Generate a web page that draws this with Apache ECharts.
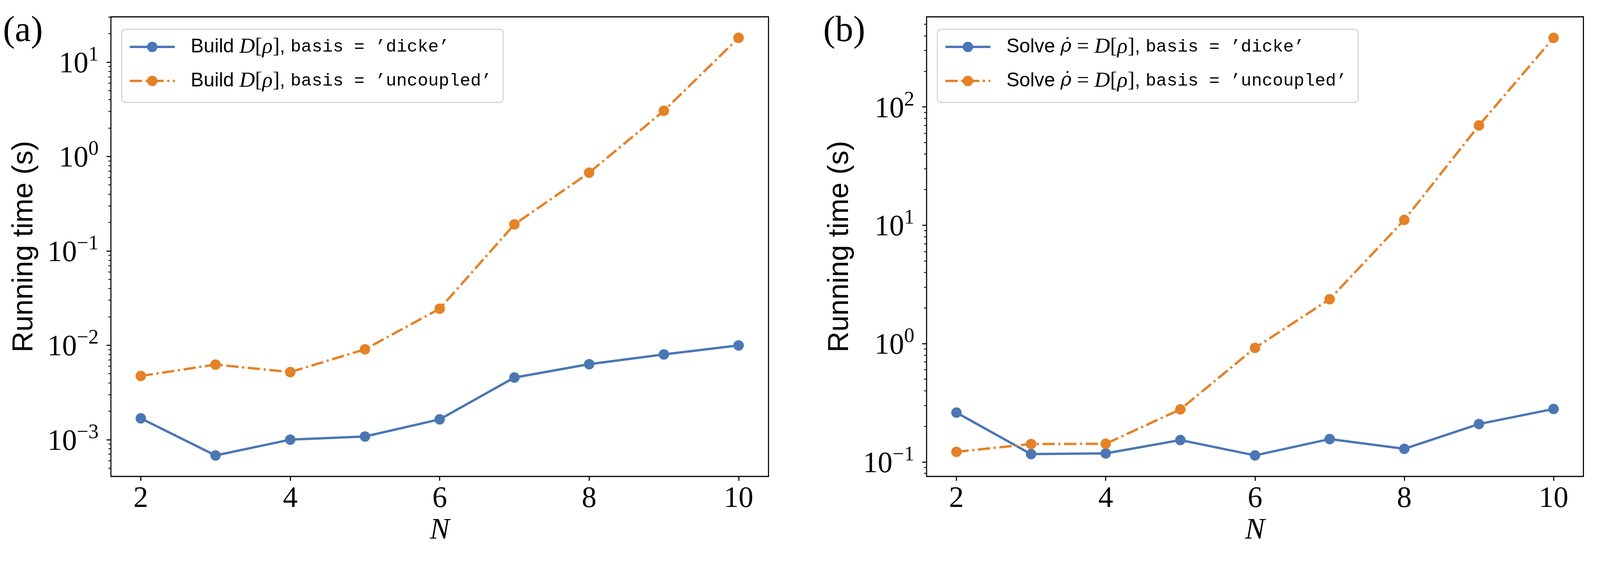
<!DOCTYPE html>
<html>
<head>
<meta charset="utf-8">
<script src="https://cdn.jsdelivr.net/npm/echarts@6.0.0/dist/echarts.min.js"></script>
<style>
  html, body { margin: 0; padding: 0; background: #fff; overflow: hidden; }
  #chart { width: 100vw; height: 100vh; }
</style>
</head>
<body>
<div id="chart"></div>
<script>
// N values on the x axis
const nValues = [2, 3, 4, 5, 6, 7, 8, 9, 10];

// (a) time to build the Lindbladian, seconds
const buildDicke = [0.00168, 0.00068, 0.00100, 0.00108, 0.00164, 0.00455, 0.0063, 0.0080, 0.00996];
const buildUncoupled = [0.00473, 0.00624, 0.0052, 0.00906, 0.0244, 0.191, 0.673, 3.05, 18.1];

// (b) time to solve the master equation, seconds
const solveDicke = [0.261, 0.1164, 0.118, 0.153, 0.1135, 0.156, 0.129, 0.209, 0.280];
const solveUncoupled = [0.1216, 0.1416, 0.1423, 0.278, 0.92, 2.37, 11.1, 69.8, 384];

// tick labels
const xTicks = [2, 4, 6, 8, 10];
const leftMajor = [1e-3, 1e-2, 1e-1, 1, 10];
const rightMajor = [1e-1, 1, 10, 100];

const BLUE = '#4a77b4';
const ORANGE = '#e58126';
const SERIF = 'Liberation Serif';
const SANS = 'Liberation Sans';
const MONO = 'Liberation Mono';

// axis limits (log decades)
const leftRange = [Math.pow(10, -3.39), Math.pow(10, 1.48)];
const rightRange = [Math.pow(10, -1.123), Math.pow(10, 2.762)];

// layout was measured on a 4443 x 1443 canvas, scale to whatever the viewport really is
const SX = window.innerWidth / 4443;
const SY = window.innerHeight / 1443;
const SF = Math.min(SX, SY);
const X = v => v * SX;
const Y = v => v * SY;
const F = v => v * SF;

function minorTicks(lo, hi) {
  const out = [];
  for (let e = Math.floor(Math.log10(lo)); e <= Math.ceil(Math.log10(hi)); e++) {
    for (let m = 2; m <= 9; m++) {
      const v = m * Math.pow(10, e);
      if (v >= lo && v <= hi) out.push(v);
    }
  }
  return out;
}

function pairs(ys) {
  return nValues.map((n, i) => [n, ys[i]]);
}

function powLabel(v) {
  const e = Math.round(Math.log10(v));
  return '{b|10}{s|' + (e < 0 ? '\u2212' + (-e) : e) + '}';
}

const tickRich = {
  b: { fontFamily: SERIF, fontSize: F(82), lineHeight: F(96), verticalAlign: 'bottom', color: '#000' },
  s: { fontFamily: SERIF, fontSize: F(57), lineHeight: F(57), verticalAlign: 'top', color: '#000' }
};

const tickLine = { color: '#000', width: F(3) };

function xAxisFor(grid) {
  return {
    type: 'value', gridIndex: grid, min: 1.6, max: 10.4,
    name: 'N', nameLocation: 'middle', nameGap: Y(100),
    nameTextStyle: { fontFamily: SERIF, fontStyle: 'italic', fontSize: F(82), color: '#000' },
    axisLine: { show: false },
    axisTick: { show: true, length: F(12), lineStyle: tickLine, customValues: xTicks },
    axisLabel: { customValues: xTicks, margin: Y(20), fontFamily: SERIF, fontSize: F(82), color: '#000' },
    splitLine: { show: false }
  };
}

function yAxisMajor(grid, range, major) {
  return {
    type: 'log', gridIndex: grid, position: 'left', min: range[0], max: range[1],
    name: 'Running time (s)', nameLocation: 'middle', nameGap: X(200), nameRotate: 90,
    nameTextStyle: { fontFamily: SANS, fontSize: F(80), color: '#000' },
    axisLine: { show: false },
    axisTick: { show: true, length: F(12), lineStyle: tickLine, customValues: major },
    axisLabel: { customValues: major, margin: X(34), formatter: powLabel, rich: tickRich },
    splitLine: { show: false }
  };
}

function yAxisMinor(grid, range) {
  return {
    type: 'log', gridIndex: grid, position: 'left', offset: 0, min: range[0], max: range[1],
    axisLine: { show: false },
    axisTick: { show: true, length: F(7), lineStyle: { color: '#000', width: F(2.4) }, customValues: minorTicks(range[0], range[1]) },
    axisLabel: { show: false },
    splitLine: { show: false }
  };
}

function lineSeries(name, ys, color, dashed, x, y) {
  return {
    name: name, type: 'line', xAxisIndex: x, yAxisIndex: y,
    data: pairs(ys),
    symbol: 'circle', symbolSize: F(29), showSymbol: true,
    lineStyle: { color: color, width: F(6.5), type: dashed ? [F(34), F(10), F(6), F(10)] : 'solid' },
    itemStyle: { color: color },
    emphasis: { disabled: true },
    animation: false
  };
}

// legend entries as rich text
const legendText = {
  bd: '{sp|}{t|Build }{m|D}{u|[}{m|ρ}{u|]}{t|, }{c|basis = \u2019dicke\u2019}',
  bu: '{sp|}{t|Build }{m|D}{u|[}{m|ρ}{u|]}{t|, }{c|basis = \u2019uncoupled\u2019}',
  sd: '{sp|}{t|Solve }{d|\u03c1\u0307}{u| = }{m|D}{u|[}{m|ρ}{u|]}{t|, }{c|basis = \u2019dicke\u2019}',
  su: '{sp|}{t|Solve }{d|\u03c1\u0307}{u| = }{m|D}{u|[}{m|ρ}{u|]}{t|, }{c|basis = \u2019uncoupled\u2019}'
};

const legendRich = {
  sp: { width: X(39) },
  t: { fontFamily: SANS, fontSize: F(54), color: '#000' },
  m: { fontFamily: SERIF, fontStyle: 'italic', fontSize: F(60), color: '#000' },
  d: { fontFamily: 'DejaVu Serif', fontStyle: 'italic', fontSize: F(52), color: '#000' },
  u: { fontFamily: SERIF, fontSize: F(60), color: '#000' },
  c: { fontFamily: MONO, fontSize: F(49), color: '#000' }
};

function legendFor(left, names) {
  return {
    left: X(left), top: Y(75), orient: 'vertical',
    data: names,
    itemWidth: X(125), itemHeight: F(36), itemGap: Y(25),
    padding: [Y(14), X(32), Y(24), X(19)],
    backgroundColor: '#fff', borderColor: '#d4d4d4', borderWidth: F(3), borderRadius: F(10),
    formatter: n => legendText[n],
    lineStyle: { width: F(6.5) },
    textStyle: { lineHeight: Y(62), rich: legendRich },
    selectedMode: false
  };
}

const chart = echarts.init(document.getElementById('chart'), null, { renderer: 'canvas' });

chart.setOption({
  backgroundColor: '#fff',
  animation: false,
  grid: [
    { left: X(308), top: Y(43), width: X(1826), height: Y(1176), show: true, borderColor: '#000', borderWidth: F(3), backgroundColor: 'transparent' },
    { left: X(2573), top: Y(43), width: X(1824), height: Y(1176), show: true, borderColor: '#000', borderWidth: F(3), backgroundColor: 'transparent' }
  ],
  xAxis: [xAxisFor(0), xAxisFor(1)],
  yAxis: [
    yAxisMajor(0, leftRange, leftMajor),
    yAxisMinor(0, leftRange),
    yAxisMajor(1, rightRange, rightMajor),
    yAxisMinor(1, rightRange)
  ],
  legend: [legendFor(338, ['bd', 'bu']), legendFor(2603, ['sd', 'su'])],
  graphic: [
    { type: 'text', x: X(8), y: Y(81), style: { text: '(a)', font: F(100) + 'px "Liberation Serif"', fill: '#000', verticalAlign: 'middle' } },
    { type: 'text', x: X(2286), y: Y(81), style: { text: '(b)', font: F(100) + 'px "Liberation Serif"', fill: '#000', verticalAlign: 'middle' } }
  ],
  series: [
    lineSeries('bd', buildDicke, BLUE, false, 0, 0),
    lineSeries('bu', buildUncoupled, ORANGE, true, 0, 0),
    lineSeries('sd', solveDicke, BLUE, false, 1, 2),
    lineSeries('su', solveUncoupled, ORANGE, true, 1, 2)
  ]
});
</script>
</body>
</html>
